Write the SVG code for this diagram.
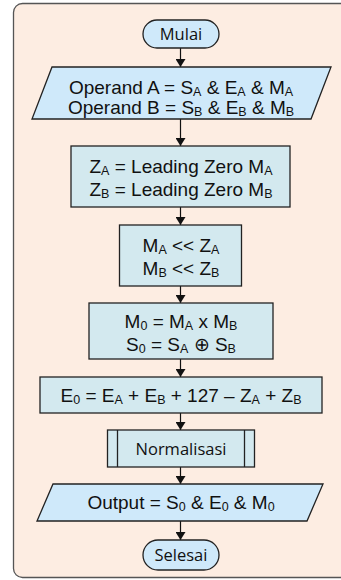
<svg xmlns="http://www.w3.org/2000/svg" width="341" height="580" viewBox="0 0 341 580">
  <style>
    .frame { fill: #fdede2; stroke: #555; stroke-width: 1.3; }
    .term { fill: #cfe9fa; stroke: #222; stroke-width: 1.3; }
    .io { fill: #cfe9fa; stroke: #222; stroke-width: 1.3; }
    .proc { fill: #d3e9ef; stroke: #222; stroke-width: 1.3; }
    .t { font-family: "Liberation Sans", Arial, sans-serif; font-size: 19px; fill: #111; text-anchor: middle; }
    .h { font-family: "Open Sans", "Noto Sans", sans-serif; font-size: 16.5px; fill: #111; text-anchor: middle; }
    .s { font-size: 12.5px; }
    .edge { stroke: #111; stroke-width: 1.2; fill: none; marker-end: url(#arrow); }
  </style>
  <defs>
    <marker id="arrow" viewBox="0 0 8 10" refX="8" refY="5" markerWidth="8" markerHeight="10" markerUnits="userSpaceOnUse" orient="auto">
      <path d="M0,0 L8,5 L0,10 Z" fill="#111"/>
    </marker>
  </defs>

  <rect class="frame" x="13.5" y="3.5" width="345" height="574" rx="9"/>

  <g id="connectors">
    <line class="edge" x1="180.5" y1="48" x2="180.5" y2="67"/>
    <line class="edge" x1="180.5" y1="119" x2="180.5" y2="146"/>
    <line class="edge" x1="180.5" y1="207" x2="180.5" y2="225"/>
    <line class="edge" x1="180.5" y1="286" x2="180.5" y2="303"/>
    <line class="edge" x1="180.5" y1="359" x2="180.5" y2="377"/>
    <line class="edge" x1="180.5" y1="413" x2="180.5" y2="430"/>
    <line class="edge" x1="180.5" y1="467" x2="180.5" y2="484"/>
    <line class="edge" x1="180.5" y1="521" x2="180.5" y2="540"/>
  </g>

  <g id="mulai">
    <rect class="term" x="143" y="20" width="76" height="28" rx="14"/>
    <text class="h" x="181" y="40">Mulai</text>
  </g>

  <g id="input">
    <polygon class="io" points="52,67 331,67 311,119 32,119"/>
    <text class="t" x="181" y="93.5">Operand A = S<tspan class="s" dy="2">A</tspan><tspan dy="-2"> &amp; E</tspan><tspan class="s" dy="2">A</tspan><tspan dy="-2"> &amp; M</tspan><tspan class="s" dy="2">A</tspan></text>
    <text class="t" x="181" y="113.5">Operand B = S<tspan class="s" dy="2">B</tspan><tspan dy="-2"> &amp; E</tspan><tspan class="s" dy="2">B</tspan><tspan dy="-2"> &amp; M</tspan><tspan class="s" dy="2">B</tspan></text>
  </g>

  <g id="leading-zero">
    <rect class="proc" x="71" y="146" width="219" height="61"/>
    <text class="t" x="181" y="172.5">Z<tspan class="s" dy="2">A</tspan><tspan dy="-2"> = Leading Zero M</tspan><tspan class="s" dy="2">A</tspan></text>
    <text class="t" x="181" y="195.5">Z<tspan class="s" dy="2">B</tspan><tspan dy="-2"> = Leading Zero M</tspan><tspan class="s" dy="2">B</tspan></text>
  </g>

  <g id="shift">
    <rect class="proc" x="119.5" y="225" width="122" height="61"/>
    <text class="t" x="181" y="251.5">M<tspan class="s" dy="2">A</tspan><tspan dy="-2"> &lt;&lt; Z</tspan><tspan class="s" dy="2">A</tspan></text>
    <text class="t" x="181" y="274.5">M<tspan class="s" dy="2">B</tspan><tspan dy="-2"> &lt;&lt; Z</tspan><tspan class="s" dy="2">B</tspan></text>
  </g>

  <g id="multiply">
    <rect class="proc" x="89" y="303" width="184" height="56"/>
    <text class="t" x="181" y="327.5">M<tspan class="s" dy="2">0</tspan><tspan dy="-2"> = M</tspan><tspan class="s" dy="2">A</tspan><tspan dy="-2"> x M</tspan><tspan class="s" dy="2">B</tspan></text>
    <text class="t" x="181" y="350.5">S<tspan class="s" dy="2">0</tspan><tspan dy="-2"> = S</tspan><tspan class="s" dy="2">A</tspan><tspan dy="-2"> ⊕ S</tspan><tspan class="s" dy="2">B</tspan></text>
  </g>

  <g id="exponent">
    <rect class="proc" x="40" y="377" width="282" height="36"/>
    <text class="t" x="181" y="401.5">E<tspan class="s" dy="2">0</tspan><tspan dy="-2"> = E</tspan><tspan class="s" dy="2">A</tspan><tspan dy="-2"> + E</tspan><tspan class="s" dy="2">B</tspan><tspan dy="-2"> + 127 – Z</tspan><tspan class="s" dy="2">A</tspan><tspan dy="-2"> + Z</tspan><tspan class="s" dy="2">B</tspan></text>
  </g>

  <g id="normalisasi">
    <rect class="proc" x="107.5" y="430" width="147" height="37"/>
    <line x1="117.5" y1="430" x2="117.5" y2="467" stroke="#222" stroke-width="1.3"/>
    <line x1="244.5" y1="430" x2="244.5" y2="467" stroke="#222" stroke-width="1.3"/>
    <text class="h" x="181" y="454.5">Normalisasi</text>
  </g>

  <g id="output">
    <polygon class="io" points="53,484 323,484 307,521 37,521"/>
    <text class="t" x="181" y="508.5">Output = S<tspan class="s" dy="2">0</tspan><tspan dy="-2"> &amp; E</tspan><tspan class="s" dy="2">0</tspan><tspan dy="-2"> &amp; M</tspan><tspan class="s" dy="2">0</tspan></text>
  </g>

  <g id="selesai">
    <rect class="term" x="143" y="540" width="76" height="30" rx="15"/>
    <text class="h" x="181" y="561">Selesai</text>
  </g>
</svg>
